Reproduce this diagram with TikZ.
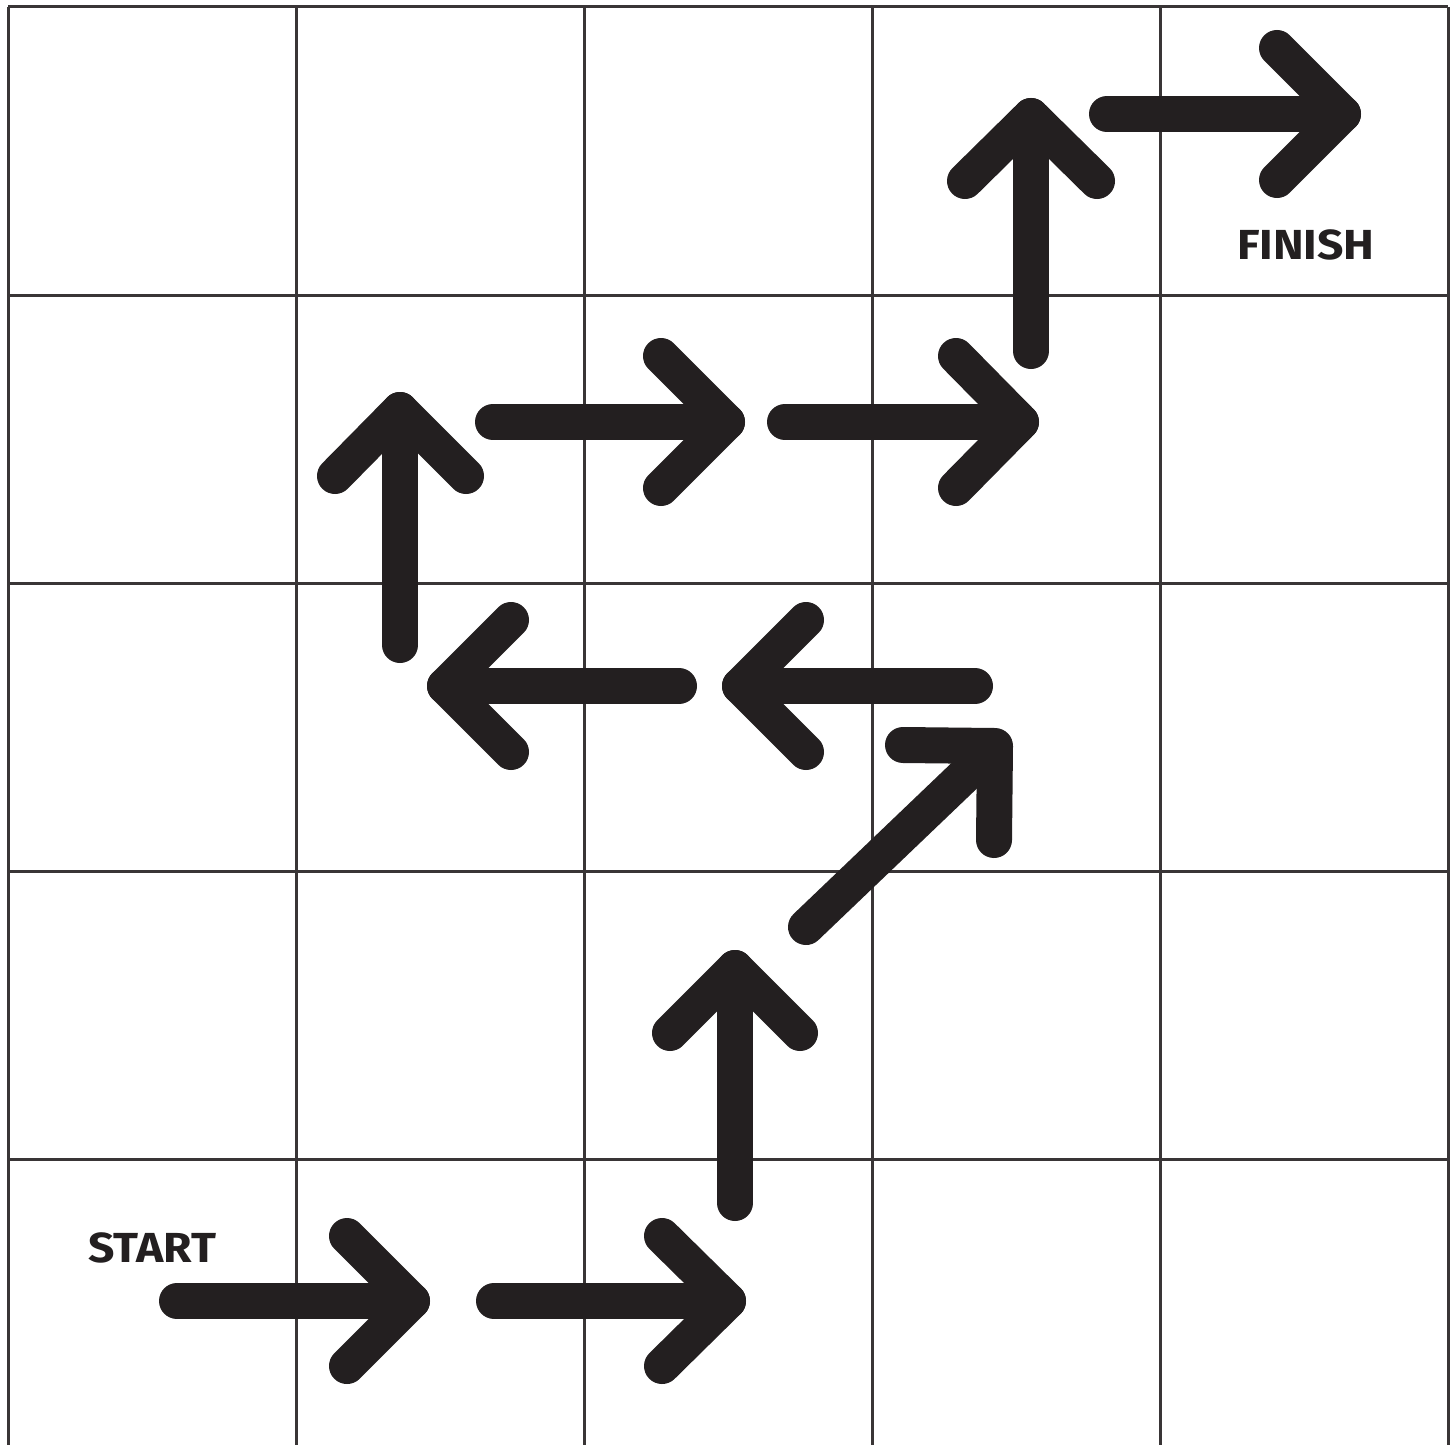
\documentclass[tikz,border=0pt]{standalone}
\usepackage{fontspec}
\setmainfont{Fira Sans}
\definecolor{ink}{HTML}{231F20}
\newcommand{\widelbl}[1]{\scalebox{1.1}[1]{#1}}
\begin{document}
\begin{tikzpicture}[x=0.5pt,y=-0.5pt,
  gridline/.style={draw=ink!90,line width=1.5pt},
  arr/.style={draw=ink,line width=18pt,line cap=round,line join=round},
  lbl/.style={font=\fontsize{21}{21}\selectfont\bfseries,text=ink,inner sep=0pt}]
\useasboundingbox[fill=white] (0,0) rectangle (1456,1445);
% grid
\foreach \i in {0,...,5} {\draw[gridline] (8+288*\i,7) -- (8+288*\i,1445);}
\foreach \j in {0,...,4} {\draw[gridline] (8,7+288*\j) -- (1448,7+288*\j);}
% labels
\node[lbl] (start) at (152,1248) {\widelbl{START}};
\node[lbl] (finish) at (1306,245) {\widelbl{FINISH}};
% arrow 1 (right)
\coordinate (a1s) at (177,1301); \coordinate (a1t) at (412,1301);
\draw[arr] (a1s) -- (a1t);
\draw[arr] (347,1236) -- (a1t) -- (347,1366);
% arrow 2 (right)
\coordinate (a2s) at (494,1301); \coordinate (a2t) at (728,1301);
\draw[arr] (a2s) -- (a2t);
\draw[arr] (662,1236) -- (a2t) -- (662,1366);
% arrow 3 (up)
\coordinate (a3s) at (735,1203); \coordinate (a3t) at (735,968);
\draw[arr] (a3s) -- (a3t);
\draw[arr] (670,1033) -- (a3t) -- (800,1033);
% arrow 4 (diagonal)
\coordinate (a4s) at (806,927); \coordinate (a4t) at (995,746);
\draw[arr] (a4s) -- (988,753);
\draw[arr] (903,745) -- (a4t) -- (994,840);
% arrow 5 (left)
\coordinate (a5s) at (975,686); \coordinate (a5t) at (740,686);
\draw[arr] (a5s) -- (a5t);
\draw[arr] (806,620) -- (a5t) -- (806,752);
% arrow 6 (left)
\coordinate (a6s) at (679,686); \coordinate (a6t) at (445,686);
\draw[arr] (a6s) -- (a6t);
\draw[arr] (511,620) -- (a6t) -- (511,752);
% arrow 7 (up)
\coordinate (a7s) at (400,645); \coordinate (a7t) at (400,410);
\draw[arr] (a7s) -- (a7t);
\draw[arr] (335,476) -- (a7t) -- (466,476);
% arrow 8 (right)
\coordinate (a8s) at (493,422); \coordinate (a8t) at (727,422);
\draw[arr] (a8s) -- (a8t);
\draw[arr] (661,356) -- (a8t) -- (661,488);
% arrow 9 (right)
\coordinate (a9s) at (785,422); \coordinate (a9t) at (1021,422);
\draw[arr] (a9s) -- (a9t);
\draw[arr] (956,356) -- (a9t) -- (956,488);
% arrow 10 (up)
\coordinate (a10s) at (1031,351); \coordinate (a10t) at (1031,116);
\draw[arr] (a10s) -- (a10t);
\draw[arr] (965,181) -- (a10t) -- (1097,181);
% arrow 11 (right)
\coordinate (a11s) at (1107,114); \coordinate (a11t) at (1343,114);
\draw[arr] (a11s) -- (a11t);
\draw[arr] (1277,48) -- (a11t) -- (1277,180);
\end{tikzpicture}
\end{document}
